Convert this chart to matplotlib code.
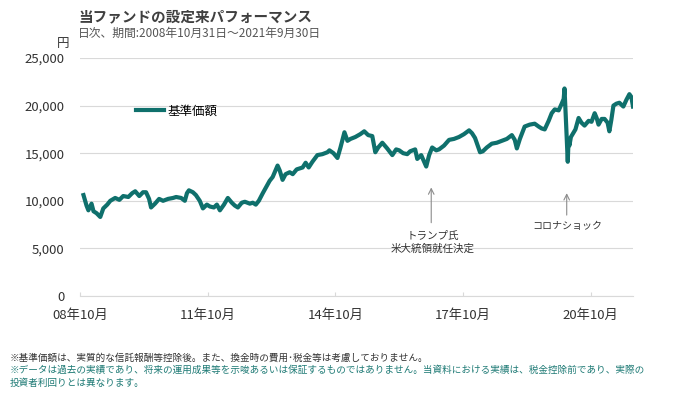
import matplotlib
matplotlib.use("Agg")
import matplotlib.pyplot as plt
import pandas as pd

plt.rcParams['font.family'] = ['Noto Sans CJK JP', 'DejaVu Sans']

# ---- data ----
dates = [
    "2008-10-31", "2008-11-26", "2008-12-12", "2009-01-08", "2009-01-25", "2009-02-20",
    "2009-03-24", "2009-04-19", "2009-05-23", "2009-06-18", "2009-07-30", "2009-09-04",
    "2009-10-07", "2009-11-20", "2009-12-23", "2010-01-18", "2010-02-22", "2010-03-26",
    "2010-04-21", "2010-05-17", "2010-06-03", "2010-07-07", "2010-08-11", "2010-09-14",
    "2010-10-27", "2010-12-09", "2011-01-04", "2011-02-16", "2011-03-20", "2011-04-07",
    "2011-04-24", "2011-05-28", "2011-06-23", "2011-07-26", "2011-08-22", "2011-09-25",
    "2011-10-21", "2011-11-24", "2011-12-20", "2012-01-15", "2012-02-19", "2012-03-23",
    "2012-04-26", "2012-05-22", "2012-06-17", "2012-07-21", "2012-08-16", "2012-09-28",
    "2012-10-23", "2012-11-18", "2012-12-14", "2013-01-17", "2013-02-13", "2013-03-17",
    "2013-04-12", "2013-05-07", "2013-05-24", "2013-06-11", "2013-07-06", "2013-08-01",
    "2013-09-05", "2013-10-01", "2013-11-04", "2013-12-25", "2014-01-20", "2014-02-15",
    "2014-03-19", "2014-05-01", "2014-06-13", "2014-07-26", "2014-08-12", "2014-09-16",
    "2014-10-20", "2014-11-15", "2014-12-19", "2015-01-14", "2015-02-09", "2015-03-22",
    "2015-05-04", "2015-06-07", "2015-07-11", "2015-08-15", "2015-09-10", "2015-10-05",
    "2015-11-09", "2015-12-21", "2016-02-03", "2016-03-07", "2016-04-02", "2016-05-06",
    "2016-06-10", "2016-07-05", "2016-08-17", "2016-09-04", "2016-10-08", "2016-11-20",
    "2016-12-15", "2017-01-10", "2017-02-14", "2017-03-10", "2017-04-22", "2017-06-04",
    "2017-07-16", "2017-08-28", "2017-10-10", "2017-11-23", "2017-12-18", "2018-01-13",
    "2018-02-08", "2018-02-25", "2018-03-21", "2018-04-24", "2018-06-06", "2018-07-19",
    "2018-09-01", "2018-10-13", "2018-11-25", "2018-12-20", "2019-01-07", "2019-02-02",
    "2019-03-15", "2019-04-27", "2019-06-09", "2019-07-13", "2019-08-08", "2019-09-03",
    "2019-10-07", "2019-11-02", "2019-11-28", "2020-01-01", "2020-01-27", "2020-02-13",
    "2020-02-20", "2020-02-27", "2020-03-05", "2020-03-12", "2020-03-19", "2020-03-26",
    "2020-04-02", "2020-04-15", "2020-05-24", "2020-06-20", "2020-07-15", "2020-08-10",
    "2020-09-14", "2020-10-09", "2020-11-05", "2020-11-22", "2020-12-08", "2021-01-04",
    "2021-01-29", "2021-02-24", "2021-03-11", "2021-03-28", "2021-04-15", "2021-05-10",
    "2021-06-05", "2021-06-22", "2021-07-09", "2021-08-04", "2021-08-30", "2021-09-16",
    "2021-09-24", "2021-09-30",
]
nav = [
    10600, 9500, 9000, 9700, 8900, 8700,
    8300, 9200, 9600, 10000, 10300, 10100,
    10500, 10400, 10800, 11000, 10500, 10900,
    10900, 10200, 9300, 9700, 10200, 10000,
    10200, 10300, 10400, 10300, 10000, 10800,
    11100, 10900, 10600, 10000, 9200, 9600,
    9400, 9300, 9600, 9000, 9600, 10300,
    9800, 9500, 9300, 9800, 9900, 9700,
    9800, 9600, 10000, 10800, 11400, 12100,
    12500, 13200, 13700, 13200, 12200, 12800,
    13000, 12800, 13300, 13500, 14000, 13500,
    14100, 14800, 14900, 15100, 15300, 15000,
    14500, 15600, 17200, 16300, 16500, 16700,
    17000, 17300, 16900, 16800, 15100, 15600,
    16100, 15500, 14800, 15400, 15300, 15000,
    14900, 15200, 15400, 14400, 14800, 13600,
    14800, 15600, 15300, 15400, 15800, 16400,
    16500, 16700, 17000, 17400, 17100, 16600,
    15700, 15100, 15200, 15600, 16000, 16100,
    16300, 16500, 16900, 16400, 15500, 16500,
    17800, 18000, 18100, 17800, 17600, 17500,
    18400, 19200, 19600, 19500, 20200, 20700,
    21800, 20000, 18000, 16000, 14100, 16500,
    15800, 16700, 17500, 18700, 18200, 17900,
    18400, 18300, 19200, 18700, 18000, 18600,
    18600, 18200, 17300, 18500, 20000, 20200,
    20300, 20100, 19900, 20600, 21200, 20900,
    20300, 19900,
]
tick_dates = ["2008-10-01", "2011-10-01", "2014-10-01", "2017-10-01", "2020-10-01"]
tick_labels = ["08年10月", "11年10月", "14年10月", "17年10月", "20年10月"]
y_ticks = [0, 5000, 10000, 15000, 20000, 25000]
y_labels = ["0", "5,000", "10,000", "15,000", "20,000", "25,000"]
series_name = "基準価額"

title = "当ファンドの設定来パフォーマンス"
subtitle = "日次、期間:2008年10月31日～2021年9月30日"
notes = [
    "※基準価額は、実質的な信託報酬等控除後。また、換金時の費用･税金等は考慮しておりません。",
    "※データは過去の実績であり、将来の運用成果等を示唆あるいは保証するものではありません。当資料における実績は、税金控除前であり、実際の",
    "投資者利回りとは異なります。",
]

# ---- figure ----
W, H = 695, 397
fig = plt.figure(figsize=(W / 100, H / 100), dpi=100)
ax = fig.add_axes([80 / W, 1 - 296 / H, (633 - 80) / W, (296 - 58) / H])

line_color = "#0f706c"
grid_color = "#d9d9d9"

x = pd.to_datetime(dates)
ax.plot(x, nav, color=line_color, lw=3.0, solid_joinstyle="round", label=series_name)

ax.set_xlim(pd.Timestamp("2008-10-01"), pd.Timestamp("2021-09-30"))
ax.set_ylim(0, 25000)
ax.set_xticks(pd.to_datetime(tick_dates))
ax.set_xticklabels(tick_labels)
ax.set_yticks(y_ticks)
ax.set_yticklabels(y_labels)

for s in ["top", "right", "left"]:
    ax.spines[s].set_visible(False)
ax.spines["bottom"].set_color(grid_color)
ax.spines["bottom"].set_linewidth(0.8)
ax.grid(axis="y", color=grid_color, lw=0.8)
ax.set_axisbelow(True)
ax.tick_params(axis="x", direction="in", length=3, color=grid_color, pad=9,
               labelsize=9.5, labelcolor="#333333")
ax.tick_params(axis="y", length=0, pad=11, labelsize=9.5, labelcolor="#333333")

# legend
fig.legend(loc="center left", bbox_to_anchor=(136 / W, 1 - 111 / H),
           frameon=False, fontsize=9, handlelength=2.2, handletextpad=0.35,
           borderpad=0, borderaxespad=0)

# annotations
arrow = dict(arrowstyle="->", color="#8c8c8c", lw=0.8, shrinkA=0, shrinkB=0)
ax.annotate("", xy=(pd.Timestamp("2017-01-02"), 11400),
            xytext=(pd.Timestamp("2017-01-02"), 7700), arrowprops=arrow)
ax.text(pd.Timestamp("2017-01-15"), 5600, "トランプ氏\n米大統領就任決定", ha="center",
        va="center", fontsize=7.6, color="#333333", linespacing=1.35)
ax.annotate("", xy=(pd.Timestamp("2020-03-10"), 10800),
            xytext=(pd.Timestamp("2020-03-10"), 8500), arrowprops=arrow)
ax.text(pd.Timestamp("2020-03-15"), 7350, "コロナショック", ha="center", va="center",
        fontsize=7.2, color="#333333")

# titles / unit
fig.text(78 / W, 1 - 16 / H, title, fontsize=10.5, fontweight="bold",
         color="#404040", ha="left", va="center")
fig.text(78 / W, 1 - 33 / H, subtitle, fontsize=8.5, color="#555555",
         ha="left", va="center")
fig.text(63 / W, 1 - 43 / H, "円", fontsize=9, color="#333333",
         ha="center", va="center")

# footnotes
note_colors = ["#333333", "#1e7a75", "#1e7a75"]
for i, (t, c) in enumerate(zip(notes, note_colors)):
    fig.text(10 / W, 1 - (358 + 12.5 * i) / H, t, fontsize=6.9, color=c,
             ha="left", va="center")

fig.savefig("out.png", dpi=100)
